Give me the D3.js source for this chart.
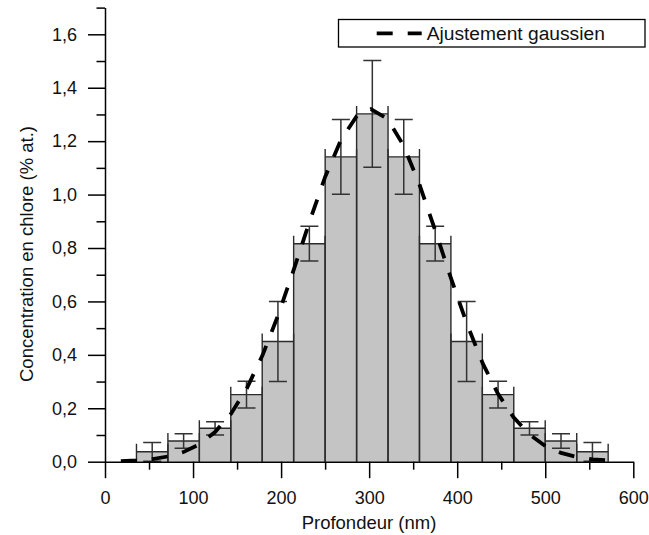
<!DOCTYPE html>
<html>
<head>
<meta charset="utf-8">
<script src="https://cdn.jsdelivr.net/npm/d3@7"></script>
<style>
  html, body { margin: 0; padding: 0; background: #fff; }
  svg { display: block; }
  text { font-family: "Liberation Sans", Arial, sans-serif; fill: #111; }
</style>
</head>
<body>
<svg id="chart" width="649" height="535"></svg>
<script>
// ---- data ----
const depthCenters = [53.6, 89.3, 125.0, 160.7, 196.4, 232.1, 267.9, 303.6, 339.3, 375.0, 410.7, 446.4, 482.1, 517.9, 553.6];
const binWidth = 35.71;
const concentration = [0.037, 0.0775, 0.125, 0.251, 0.45, 0.816, 1.141, 1.302, 1.141, 0.816, 0.45, 0.251, 0.125, 0.0775, 0.037];
const errors = [0.035, 0.027, 0.025, 0.05, 0.15, 0.065, 0.14, 0.2, 0.14, 0.065, 0.15, 0.05, 0.025, 0.027, 0.035];
const fitX = [18, 36, 54, 72, 89, 107, 125, 143, 161, 179, 196, 214, 232, 250, 268, 286, 302, 321, 339, 357, 375, 393, 411, 429, 446, 464, 482, 500, 518, 536, 554, 575];
const fitY = [0.002, 0.005, 0.010, 0.020, 0.036, 0.065, 0.111, 0.179, 0.274, 0.399, 0.543, 0.715, 0.896, 1.066, 1.205, 1.294, 1.320, 1.283, 1.184, 1.039, 0.866, 0.686, 0.516, 0.368, 0.256, 0.166, 0.102, 0.059, 0.033, 0.017, 0.009, 0.004];
const xMajorTicks = [0, 100, 200, 300, 400, 500, 600];
const xMinorTicks = [50, 150, 250, 350, 450, 550];
const yMajorTicks = [0, 0.2, 0.4, 0.6, 0.8, 1.0, 1.2, 1.4, 1.6];
const yMinorTicks = [0.1, 0.3, 0.5, 0.7, 0.9, 1.1, 1.3, 1.5, 1.7];
const xTitle = "Profondeur (nm)";
const yTitle = "Concentration en chlore (% at.)";
const legendLabel = "Ajustement gaussien";

// ---- layout ----
const svg = d3.select("#chart");
const x = d3.scaleLinear().domain([0, 600]).range([105, 633.3]);
const y = d3.scaleLinear().domain([0, 1.7]).range([461.7, 7.6]);
const fmt = v => d3.format(".1f")(v).replace(".", ",");
const barStroke = "#2b2b2b";

// bars
const bars = svg.append("g");
depthCenters.forEach((c, i) => {
  const x0 = x(c - binWidth / 2), x1 = x(c + binWidth / 2);
  const yt = y(concentration[i]);
  bars.append("rect")
    .attr("x", x0).attr("y", yt)
    .attr("width", x1 - x0).attr("height", y(0) - yt)
    .attr("fill", "#c4c4c4");
});
depthCenters.forEach((c, i) => {
  const x0 = x(c - binWidth / 2), x1 = x(c + binWidth / 2);
  const yt = y(concentration[i]);
  const p = d3.path();
  p.moveTo(x0, y(0)); p.lineTo(x0, yt - 8);
  p.moveTo(x1, y(0)); p.lineTo(x1, yt - 8);
  p.moveTo(x0, yt); p.lineTo(x1, yt);
  bars.append("path").attr("d", p.toString())
    .attr("fill", "none").attr("stroke", barStroke).attr("stroke-width", 1.4);
});

// error bars
const eb = svg.append("g").attr("stroke", "#333").attr("stroke-width", 1.5).attr("fill", "none");
depthCenters.forEach((c, i) => {
  const cx = x(c);
  const lo = y(Math.max(0, concentration[i] - errors[i]));
  const hi = y(concentration[i] + errors[i]);
  const p = d3.path();
  p.moveTo(cx, lo); p.lineTo(cx, hi);
  p.moveTo(cx - 9, hi); p.lineTo(cx + 9, hi);
  p.moveTo(cx - 9, lo); p.lineTo(cx + 9, lo);
  eb.append("path").attr("d", p.toString());
});

// gaussian fit
const line = d3.line().x(d => x(d[0])).y(d => y(d[1]));
svg.append("path")
  .datum(fitX.map((v, i) => [v, fitY[i]]))
  .attr("d", line)
  .attr("fill", "none").attr("stroke", "#000")
  .attr("stroke-width", 3.8).attr("stroke-dasharray", "16,15");

// axes
const axisStyle = g => {
  g.selectAll("path.domain").attr("stroke", "#000").attr("stroke-width", 1.5);
  g.selectAll(".tick line").attr("stroke", "#000").attr("stroke-width", 1.5);
  g.selectAll(".tick text").attr("font-size", 18).attr("fill", "#111")
    .style("font-family", '"Liberation Sans", Arial, sans-serif');
};
const gx = svg.append("g").attr("transform", `translate(0,${y(0)})`)
  .call(d3.axisBottom(x).tickValues(xMajorTicks).tickSize(16.5).tickSizeOuter(0).tickPadding(13).tickFormat(d3.format("d")));
axisStyle(gx);
svg.append("g").attr("transform", `translate(0,${y(0)})`)
  .call(d3.axisBottom(x).tickValues(xMinorTicks).tickSize(8).tickSizeOuter(0).tickFormat(""))
  .call(g => g.select("path.domain").remove())
  .call(axisStyle);

const gy = svg.append("g").attr("transform", `translate(${x(0)},0)`)
  .call(d3.axisLeft(y).tickValues(yMajorTicks).tickSize(17).tickSizeOuter(0).tickPadding(11).tickFormat(fmt));
axisStyle(gy);
svg.append("g").attr("transform", `translate(${x(0)},0)`)
  .call(d3.axisLeft(y).tickValues(yMinorTicks).tickSize(8.5).tickSizeOuter(0).tickFormat(""))
  .call(g => g.select("path.domain").remove())
  .call(axisStyle);

// titles
svg.append("text").attr("x", 369).attr("y", 528.5)
  .attr("text-anchor", "middle").attr("font-size", 18.5).text(xTitle);
svg.append("text").attr("transform", "translate(32.5,254) rotate(-90)")
  .attr("text-anchor", "middle").attr("font-size", 18.5).text(yTitle);

// legend
const lg = svg.append("g");
lg.append("rect").attr("x", 338.5).attr("y", 19.5).attr("width", 306.5).attr("height", 27.5)
  .attr("fill", "#fff").attr("stroke", "#000").attr("stroke-width", 1.3);
lg.append("line").attr("x1", 376.7).attr("x2", 421.7).attr("y1", 33.3).attr("y2", 33.3)
  .attr("stroke", "#000").attr("stroke-width", 3.8).attr("stroke-dasharray", "16,15");
lg.append("text").attr("x", 426.7).attr("y", 40.3).attr("font-size", 19.2).text(legendLabel);
</script>
</body>
</html>
